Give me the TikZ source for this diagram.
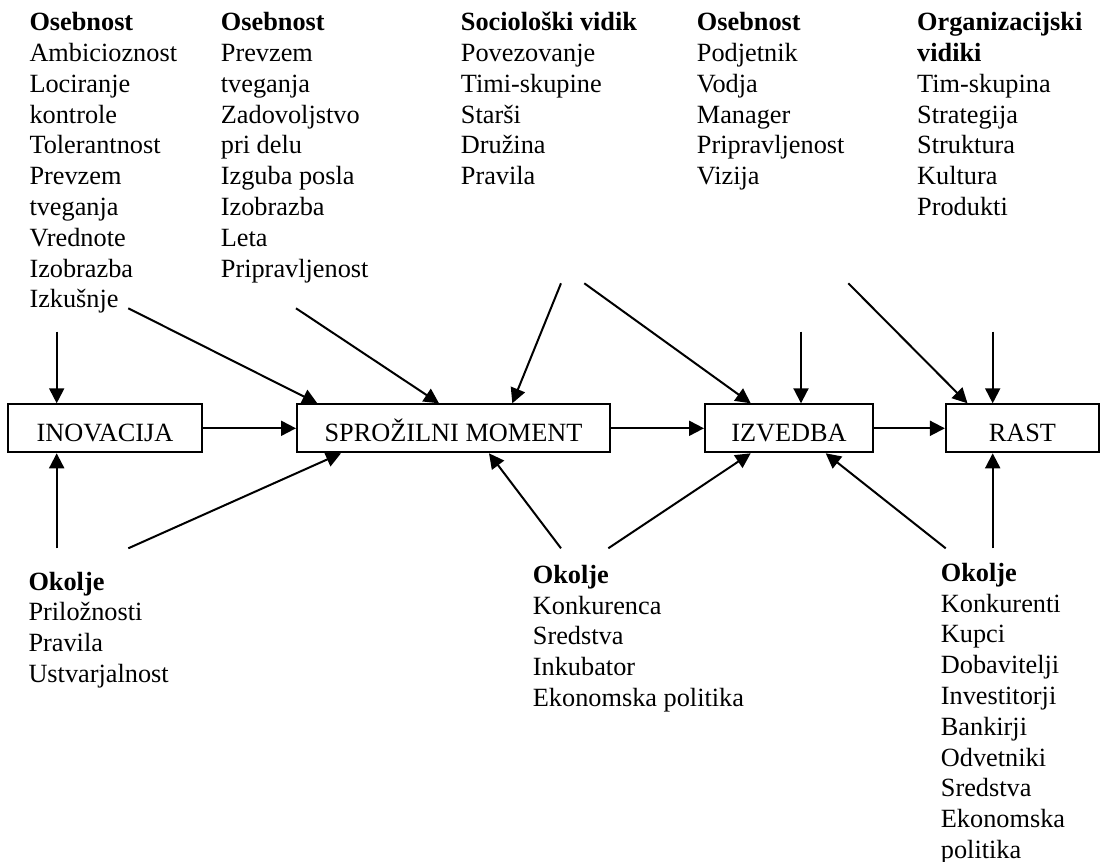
\documentclass[tikz,border=0pt]{standalone}
\usepackage{fontspec}
\setmainfont{Liberation Serif}
\usetikzlibrary{arrows.meta,calc}
\tikzset{box/.style={draw,line width=2pt,inner sep=0pt,text height=25.4pt,text depth=0pt},
  col/.style={anchor=base west,align=left,inner sep=0pt},
  flow/.style={-{Triangle[length=15pt,width=15pt]},line width=2pt}}

\begin{document}
\begin{tikzpicture}[x=1pt,y=-1pt,font=\fontsize{26.3}{30.8}\selectfont]
\useasboundingbox (0,0) rectangle (1103,862);
% the four stages
\node[box,minimum width=194pt,minimum height=48pt] (ino) at (105,428.3) {INOVACIJA};
\node[box,minimum width=313pt,minimum height=48pt] (spr) at (453.5,428.3) {SPROŽILNI MOMENT};
\node[box,minimum width=168pt,minimum height=48pt] (izv) at (789,428.3) {IZVEDBA};
\node[box,minimum width=153pt,minimum height=48pt] (rast) at (1022.4,428.3) {RAST};
\draw[flow] (ino) -- (spr);
\draw[flow] (spr) -- (izv);
\draw[flow] (izv) -- (rast);
% factors above (placed by the baseline of the last line)
\node[col] (osb1) at (29.3,307.9) {\textbf{Osebnost}\\Ambicioznost\\Lociranje\\kontrole\\Tolerantnost\\Prevzem\\tveganja\\Vrednote\\Izobrazba\\Izkušnje};
\node[col] (osb2) at (220.7,277.1) {\textbf{Osebnost}\\Prevzem\\tveganja\\Zadovoljstvo\\pri delu\\Izguba posla\\Izobrazba\\Leta\\Pripravljenost};
\node[col] (soc) at (460.7,184.7) {\textbf{Sociološki vidik}\\Povezovanje\\Timi-skupine\\Starši\\Družina\\Pravila};
\node[col] (osb3) at (696.7,184.7) {\textbf{Osebnost}\\Podjetnik\\Vodja\\Manager\\Pripravljenost\\Vizija};
\node[col] (org) at (917,215.5) {\textbf{Organizacijski}\\\textbf{vidiki}\\Tim-skupina\\Strategija\\Struktura\\Kultura\\Produkti};
% factors below
\node[col] (okA) at (28.3,682.4) {\textbf{Okolje}\\Priložnosti\\Pravila\\Ustvarjalnost};
\node[col] (okB) at (532.7,706.5) {\textbf{Okolje}\\Konkurenca\\Sredstva\\Inkubator\\Ekonomska politika};
\node[col] (okC) at (940.7,858.5) {\textbf{Okolje}\\Konkurenti\\Kupci\\Dobavitelji\\Investitorji\\Bankirji\\Odvetniki\\Sredstva\\Ekonomska\\politika};
% free ends of the arrows
\coordinate (v1) at (56.7,331.7);
\coordinate (v2) at (801,331.7);
\coordinate (v3) at (992.7,331.7);
\coordinate (s1) at (128.3,308.3);
\coordinate (s2) at (296,308.3);
\coordinate (s3) at (561,283.3);
\coordinate (s4) at (584.3,283.3);
\coordinate (s5) at (848.3,283.3);
\coordinate (b1) at (56.7,548.3);
\coordinate (b2) at (128.3,548.3);
\coordinate (b3) at (561,548.3);
\coordinate (b4) at (608.3,548.3);
\coordinate (b5) at (945.7,548.3);
\coordinate (b6) at (992.7,548.3);
\foreach \a/\b in {v1/ino,v2/izv,v3/rast}
  \draw[flow] (\a) -- (\b.north -| \a);
\foreach \a/\b in {b1/ino,b6/rast}
  \draw[flow] (\a) -- (\b.south -| \a);
\draw[flow] (s1) -- ([xshift=21.3pt]spr.north west);
\draw[flow] (s2) -- ([xshift=143pt]spr.north west);
\draw[flow] (s3) -- ([xshift=216.3pt]spr.north west);
\draw[flow] (s4) -- ([xshift=46.7pt]izv.north west);
\draw[flow] (s5) -- ([xshift=22.6pt]rast.north west);
\draw[flow] (b2) -- ([xshift=45pt]spr.south west);
\draw[flow] (b3) -- ([xshift=193pt]spr.south west);
\draw[flow] (b4) -- ([xshift=46.7pt]izv.south west);
\draw[flow] (b5) -- ([xshift=121.7pt]izv.south west);
\end{tikzpicture}
\end{document}
